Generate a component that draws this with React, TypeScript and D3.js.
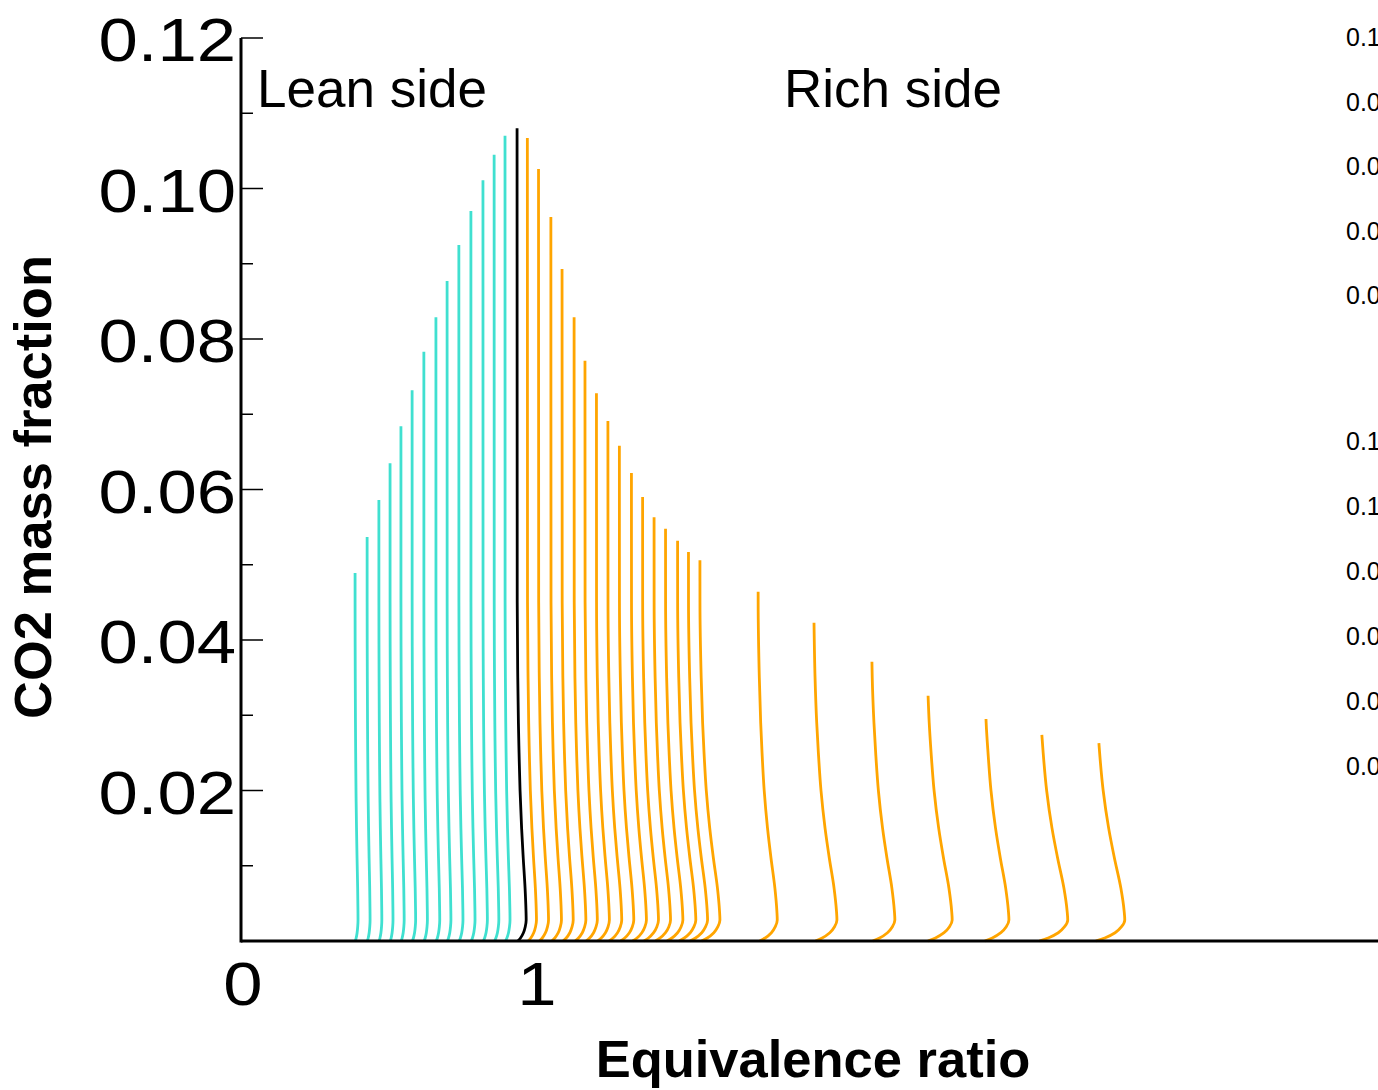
import React from "react";
import * as d3 from "d3";

// Lean-side flamelets: equivalence ratio at the top of each curve, peak CO2, bulge (phi units)
const leanPhi = [0.388, 0.429, 0.469, 0.507, 0.544, 0.582, 0.622, 0.663, 0.701, 0.741, 0.782, 0.823, 0.861, 0.898];
const leanPeak = [0.0489, 0.0537, 0.0586, 0.0635, 0.0684, 0.0732, 0.0783, 0.0829, 0.0877, 0.0925, 0.097, 0.1011, 0.1045, 0.107];
const leanBulge = [0.01, 0.01, 0.01, 0.01, 0.011, 0.012, 0.012, 0.013, 0.013, 0.014, 0.014, 0.015, 0.016, 0.017];

// Stoichiometric flamelet
const stoichPhi = [0.939];
const stoichPeak = [0.108];
const stoichBulge = [0.031];

// Rich-side flamelets
const richPhi = [0.974, 1.012, 1.054, 1.092, 1.133, 1.17, 1.209, 1.248, 1.287, 1.328, 1.366, 1.405, 1.444, 1.485, 1.522, 1.561,
  1.759, 1.949, 2.146, 2.337, 2.534, 2.724, 2.918];
const richPeak = [0.1067, 0.1026, 0.0962, 0.0893, 0.0829, 0.0771, 0.0728, 0.0691, 0.0658, 0.0622, 0.059, 0.0563, 0.0548, 0.0532, 0.0517, 0.0506,
  0.0464, 0.0423, 0.0371, 0.0326, 0.0295, 0.0274, 0.0263];
const richBulge = [0.031, 0.034, 0.036, 0.038, 0.04, 0.042, 0.044, 0.047, 0.049, 0.051, 0.054, 0.056, 0.059, 0.062, 0.065, 0.068,
  0.065, 0.078, 0.078, 0.082, 0.078, 0.088, 0.088];

// Shape of a flamelet: relative shift toward richer mixture at each CO2 level
const profileCO2 = [0.12, 0.045, 0.035, 0.029, 0.025, 0.02, 0.015, 0.011, 0.007, 0.004, 0.0028, 0.0019, 0.0011, 0.0004, 0];
const profileShift = [0, 0.02, 0.08, 0.15, 0.22, 0.33, 0.5, 0.68, 0.88, 0.98, 1.0, 0.9, 0.7, 0.38, 0.1];

// Axis ticks
const yMajorTicks = [0.02, 0.04, 0.06, 0.08, 0.1, 0.12];
const yMinorTicks = [0.01, 0.03, 0.05, 0.07, 0.09, 0.11];
const xTickValues = [0, 1];

// Colour-scale labels at the right edge
const sideLabelsA = ["0.10", "0.08", "0.06", "0.04", "0.02"];
const sideLabelsB = ["0.15", "0.12", "0.09", "0.06", "0.03", "0.00"];

const W = 1378;
const H = 1090;
const FONT = "'Liberation Sans', Arial, Helvetica, sans-serif";

const x = d3.scaleLinear().domain([0, 4]).range([241, 241 + 294 * 4]);
const y = d3.scaleLinear().domain([0, 0.12]).range([941, 38]);

const shiftAt = d3.scaleLinear().domain(profileCO2).range(profileShift).clamp(true);

function flamelet(phi: number, peak: number, bulge: number): [number, number][] {
  const base = shiftAt(peak);
  const pts: [number, number][] = [[phi, peak]];
  profileCO2.forEach((c) => {
    if (c < peak) {
      const s = (shiftAt(c) - base) / (1 - base);
      pts.push([phi + bulge * s, c]);
    }
  });
  return pts;
}

const line = d3
  .line<[number, number]>()
  .x((d) => x(d[0]))
  .y((d) => y(d[1]))
  .curve(d3.curveMonotoneY);

const sideA = d3.scaleLinear().domain([0, sideLabelsA.length - 1]).range([37, 295]);
const sideB = d3.scaleLinear().domain([0, sideLabelsB.length - 1]).range([441, 766]);

export default function App() {
  const groups = [
    { phi: leanPhi, peak: leanPeak, bulge: leanBulge, color: "#40E0D0" },
    { phi: richPhi, peak: richPeak, bulge: richBulge, color: "#FFA500" },
    { phi: stoichPhi, peak: stoichPeak, bulge: stoichBulge, color: "#000000" },
  ];
  return (
    <svg
      width={W}
      height={H}
      style={{ position: "absolute", left: 0, top: 0, background: "#fff" }}
      fontFamily={FONT}
    >
      {groups.map((g, gi) =>
        g.phi.map((p, i) => (
          <path
            key={`${gi}-${i}`}
            d={line(flamelet(p, g.peak[i], g.bulge[i])) || ""}
            fill="none"
            stroke={g.color}
            strokeWidth={2.8}
            strokeLinejoin="round"
          />
        ))
      )}

      {/* axes */}
      <line x1={x(0)} x2={W} y1={y(0)} y2={y(0)} stroke="#000" strokeWidth={3} />
      <line x1={x(0)} x2={x(0)} y1={y(0) + 1.5} y2={y(0.12)} stroke="#000" strokeWidth={3} />
      {yMajorTicks.map((t) => (
        <line key={`M${t}`} x1={x(0)} x2={x(0) + 22} y1={y(t)} y2={y(t)} stroke="#000" strokeWidth={1.5} />
      ))}
      {yMinorTicks.map((t) => (
        <line key={`m${t}`} x1={x(0)} x2={x(0) + 12} y1={y(t)} y2={y(t)} stroke="#000" strokeWidth={1.5} />
      ))}
      {yMajorTicks.map((t) => (
        <text
          key={`l${t}`}
          transform={`translate(236,${y(t) + 23}) scale(1.14,1)`}
          textAnchor="end"
          fontSize={62}
          fill="#000"
        >
          {t.toFixed(2)}
        </text>
      ))}
      {xTickValues.map((t) => (
        <text
          key={`x${t}`}
          transform={`translate(${x(t) + 2},${y(0) + 64}) scale(1.14,1)`}
          textAnchor="middle"
          fontSize={62}
          fill="#000"
        >
          {t}
        </text>
      ))}

      {/* axis titles */}
      <text x={813} y={1077} textAnchor="middle" fontSize={52.5} fontWeight="bold" fill="#000">
        Equivalence ratio
      </text>
      <text
        transform={`translate(51,487) rotate(-90)`}
        textAnchor="middle"
        fontSize={52.5}
        fontWeight="bold"
        fill="#000"
      >
        CO2 mass fraction
      </text>

      {/* region annotations */}
      <text x={257} y={107} fontSize={53} fill="#000">
        Lean side
      </text>
      <text x={784} y={107} fontSize={53} fill="#000">
        Rich side
      </text>

      {/* colour-scale labels */}
      {sideLabelsA.map((s, i) => (
        <text key={`a${i}`} x={1346} y={sideA(i) + 9} fontSize={25} fill="#000">
          {s}
        </text>
      ))}
      {sideLabelsB.map((s, i) => (
        <text key={`b${i}`} x={1346} y={sideB(i) + 9} fontSize={25} fill="#000">
          {s}
        </text>
      ))}
    </svg>
  );
}
